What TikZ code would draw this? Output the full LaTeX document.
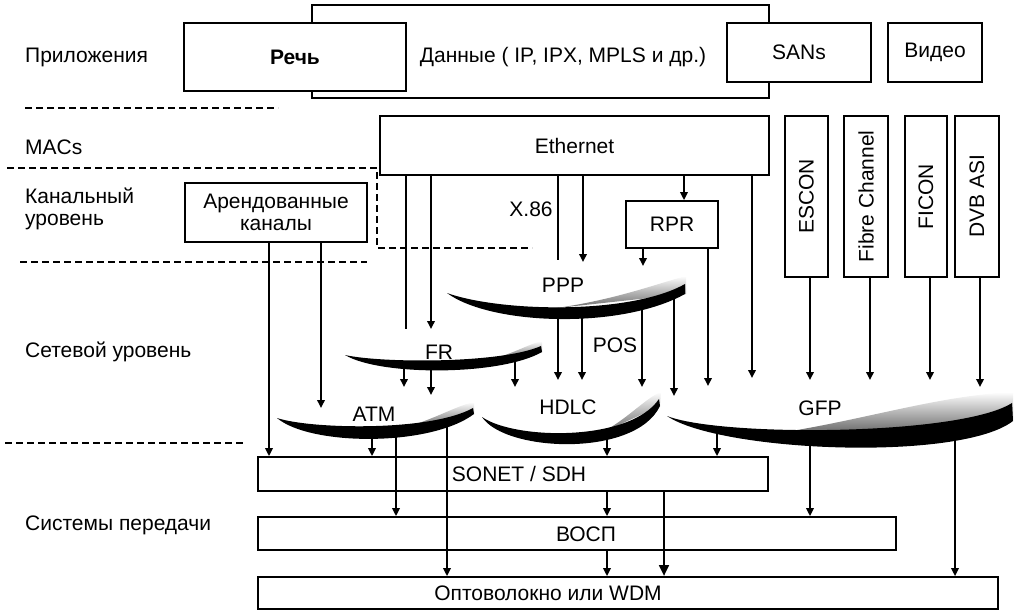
\documentclass[tikz,border=0pt]{standalone}
\usepackage{fontspec}
\usepackage{graphicx}
\setmainfont{Liberation Sans}
\usetikzlibrary{arrows.meta}
\newcommand\lbfont{\fontsize{21}{22}\selectfont}
\begin{document}
\begin{tikzpicture}[x=1pt,y=-1pt,
  box/.style={draw, line width=1.8pt, fill=white, inner sep=0pt, font=\lbfont},
  lbl/.style={anchor=west, font=\lbfont, align=left, inner sep=0pt},
  txt/.style={font=\lbfont, inner sep=0pt},
  ln/.style={line width=1.8pt},
  arr/.style={line width=1.8pt, -{Triangle[length=8pt,width=7.5pt]}},
  arrT/.style={line width=2.8pt, -{Triangle[length=11pt,width=9.5pt]}},
  dsh/.style={line width=1.4pt, dash pattern=on 7pt off 4pt},
  band/.style={fill=black},
  speck/.style={top color=white, bottom color=black!65}]
\useasboundingbox (0,0) rectangle (1014,611);

% ---------- left labels ----------
\node[lbl] (lapp) at (25,57) {Приложения};
\node[lbl] (lmac) at (25,147) {MACs};
\node[lbl] (lkan) at (25,209) {Канальный\\уровень};
\node[lbl] (lnet) at (25,352) {Сетевой уровень};
\node[lbl] (lsys) at (25,525) {Системы передачи};

% ---------- dashed separators ----------
\draw[dsh] (25,108) -- (278,108);
\draw[dsh] (7,168) -- (377,168) -- (377,248) -- (532,248);
\draw[dsh] (20,262) -- (367,262);
\draw[dsh] (5,443) -- (245,443);

% ---------- application boxes ----------
\node[box, minimum width=457pt, minimum height=93pt] (data) at (540.5,51.5) {};
\node[box, minimum width=222pt, minimum height=68pt, font=\lbfont\bfseries] (rech) at (295,57) {Речь};
\node[box, minimum width=144pt, minimum height=59pt] (sans) at (799,52.5) {SANs};
\node[box, minimum width=94pt, minimum height=59pt] (video) at (935,52.5) {Видео};
\node[txt] (datatxt) at (563,57) {Данные ( IP, IPX, MPLS и др.)};

% ---------- MAC / link boxes ----------
\node[box, minimum width=389pt, minimum height=59pt] (eth) at (574.5,145.5) {Ethernet};
\node[box, minimum width=182pt, minimum height=59pt, align=center] (arend) at (276,212.5) {Арендованные\\каналы};
\node[box, minimum width=92pt, minimum height=47pt] (rpr) at (672,224.5) {RPR};
\node[box, minimum width=43pt, minimum height=161pt] (escon) at (806.5,196.5) {\rotatebox{90}{ESCON}};
\node[box, minimum width=44pt, minimum height=161pt] (fc) at (866,196.5) {\rotatebox{90}{Fibre Channel}};
\node[box, minimum width=42pt, minimum height=161pt] (ficon) at (926,196.5) {\rotatebox{90}{FICON}};
\node[box, minimum width=44pt, minimum height=161pt] (dvb) at (977,196.5) {\rotatebox{90}{DVB ASI}};

% ---------- transmission boxes ----------
\node[box, minimum width=510pt, minimum height=34pt] (sonet) at (513,474) {};
\node[box, minimum width=638pt, minimum height=33pt] (vosp) at (577,533.5) {};
\node[box, minimum width=740pt, minimum height=32pt] (opto) at (628,593) {};

% ---------- network-layer crescents ----------
% PPP
\shade[speck] (520,312) .. controls (600,306) and (655,284) .. (686,276) -- (686,294) -- cycle;
\fill[band] (447,293) .. controls (490,325) and (620,330) .. (685,294) -- (685,284)
  .. controls (630,315) and (500,312) .. (447,293) -- cycle;
% FR
\shade[speck] (480,362) .. controls (510,356) and (528,344) .. (542,341) -- (542,352) -- cycle;
\fill[band] (345,355) .. controls (380,376) and (500,376) .. (542,352) -- (541,346)
  .. controls (500,364) and (380,363) .. (345,355) -- cycle;
% ATM
\shade[speck] (395,430) .. controls (430,422) and (455,406) .. (474,402) -- (474,414) -- cycle;
\fill[band] (277,418) .. controls (310,446) and (430,447) .. (474,414) -- (473,408)
  .. controls (430,432) and (310,429) .. (277,418) -- cycle;
% HDLC
\shade[speck] (595,436) .. controls (625,422) and (645,398) .. (661,392) -- (660,406) -- cycle;
\fill[band] (482,417) .. controls (505,452) and (635,458) .. (660,406) -- (659,399)
  .. controls (630,442) and (515,440) .. (482,417) -- cycle;
% GFP
\shade[speck] (750,437) .. controls (850,425) and (930,396) .. (1013,392) -- (1013,420) -- cycle;
\fill[band] (667,416) .. controls (720,452) and (960,462) .. (1013,421) -- (1012,403)
  .. controls (960,436) and (720,437) .. (667,416) -- cycle;

% ---------- named points ----------
\coordinate (frT1) at (406,329);  \coordinate (frT2) at (431,329);
\coordinate (pppT1) at (558,260); \coordinate (pppT2) at (583,262); \coordinate (pppT3) at (643,266);
\coordinate (hdlcT1) at (558,380); \coordinate (hdlcT2) at (582,380);
\coordinate (hdlcT3) at (642,387); \coordinate (hdlcT4) at (515,387);
\coordinate (gfpT1) at (674,396); \coordinate (gfpT2) at (708,386); \coordinate (gfpT3) at (752,378);
\coordinate (gfpT4) at (810,380); \coordinate (gfpT5) at (870,380); \coordinate (gfpT6) at (930,380);
\coordinate (gfpT7) at (980,387);
\coordinate (atmT1) at (321,408); \coordinate (atmT2) at (404,387); \coordinate (atmT3) at (431,395);
\coordinate (pppS1) at (558,314); \coordinate (pppS2) at (582,314);
\coordinate (pppS3) at (642,308); \coordinate (pppS4) at (674,297);
\coordinate (frS1) at (404,365); \coordinate (frS2) at (431,366); \coordinate (frS3) at (515,361);
\coordinate (atmS1) at (372,432); \coordinate (atmS2) at (396,431); \coordinate (atmS3) at (447,425);
\coordinate (hdlcS1) at (607,438);
\coordinate (gfpS1) at (717,430); \coordinate (gfpS2) at (810,440); \coordinate (gfpS3) at (955,433);
\coordinate (x269) at (269,0); \coordinate (x684) at (684,0);
\coordinate (x607) at (607,0); \coordinate (x664) at (664,0);

% ---------- connectors ----------
% from Ethernet
\draw[ln] (eth.south -| frT1) -- (frT1);
\draw[arr] (eth.south -| frT2) -- (frT2);
\draw[ln] (eth.south -| pppT1) -- (pppT1);
\draw[arr] (eth.south -| pppT2) -- (pppT2);
\draw[arr] (eth.south -| x684) -- (rpr.north -| x684);
\draw[arr] (eth.south -| gfpT3) -- (gfpT3);
% from RPR
\draw[arr] (rpr.south -| pppT3) -- (pppT3);
\draw[arr] (rpr.south -| gfpT2) -- (gfpT2);
% from storage / video protocols
\draw[arr] (escon.south -| gfpT4) -- (gfpT4);
\draw[arr] (fc.south -| gfpT5) -- (gfpT5);
\draw[arr] (ficon.south -| gfpT6) -- (gfpT6);
\draw[arr] (dvb.south -| gfpT7) -- (gfpT7);
% from leased lines
\draw[arr] (arend.south -| x269) -- (sonet.north -| x269);
\draw[arr] (arend.south -| atmT1) -- (atmT1);
% from PPP
\draw[arr] (pppS1) -- (hdlcT1);
\draw[arr] (pppS2) -- (hdlcT2);
\draw[arr] (pppS3) -- (hdlcT3);
\draw[arr] (pppS4) -- (gfpT1);
% from FR
\draw[arr] (frS1) -- (atmT2);
\draw[arr] (frS2) -- (atmT3);
\draw[arr] (frS3) -- (hdlcT4);
% from ATM
\draw[arr] (atmS1) -- (sonet.north -| atmS1);
\draw[arr] (atmS2) -- (vosp.north -| atmS2);
\draw[arr] (atmS3) -- (opto.north -| atmS3);
% from HDLC
\draw[arr] (hdlcS1) -- (sonet.north -| hdlcS1);
% from GFP
\draw[arr] (gfpS1) -- (sonet.north -| gfpS1);
\draw[arr] (gfpS2) -- (vosp.north -| gfpS2);
\draw[arr] (gfpS3) -- (opto.north -| gfpS3);
% transmission
\draw[arr] (sonet.south -| x607) -- (vosp.north -| x607);
\draw[arrT] (sonet.south -| x664) -- (opto.north -| x664);
\draw[arr] (vosp.south -| x607) -- (opto.north -| x607);

% ---------- labels ----------
\node[txt] (x86L) at (531,209) {X.86};
\node[txt] (pppL) at (563,285) {PPP};
\node[txt] (posL) at (615,345) {POS};
\node[txt] (frL) at (439,352) {FR};
\node[txt] (atmL) at (374,414) {ATM};
\node[txt] (hdlcL) at (568,407) {HDLC};
\node[txt] (gfpL) at (820,408) {GFP};
\node[txt] (sonetL) at (519,474) {SONET / SDH};
\node[txt] (vospL) at (586,534) {ВОСП};
\node[txt] (optoL) at (548,593) {Оптоволокно или WDM};
\end{tikzpicture}
\end{document}
